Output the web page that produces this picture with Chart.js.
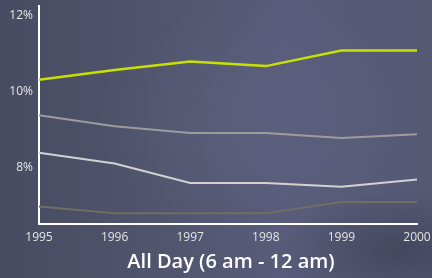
<!DOCTYPE html>
<html lang="en">
<head>
    <meta charset="UTF-8">
    <script src="https://cdn.jsdelivr.net/npm/chart.js"></script>
    <title>All Day</title>
    <style>
        html, body { margin: 0; padding: 0; }
        body {
            position: relative;
            width: 432px;
            height: 278px;
            overflow: hidden;
            background:
                radial-gradient(ellipse 120px 60px at 400px 250px, rgba(60,64,84,0.7), rgba(60,64,84,0)),
                radial-gradient(ellipse 160px 120px at 260px 120px, rgba(96,100,130,0.5), rgba(96,100,130,0)),
                linear-gradient(90deg, #474c62 0%, #50546c 35%, #585c7a 65%, #555974 100%);
        }
        canvas { display: block; }
        .chart-title {
            position: absolute;
            left: 231px;
            top: 251px;
            transform: translateX(-50%);
            white-space: nowrap;
            font-family: 'Open Sans', sans-serif;
            font-size: 20px;
            font-weight: 600;
            line-height: 20px;
            color: #ffffff;
        }
    </style>
</head>
<body>
<canvas id="myChart" width="432" height="278"></canvas>
<div class="chart-title">All Day (6 am - 12 am)</div>

<script>
    // years on the x axis
    const years = ['1995', '1996', '1997', '1998', '1999', '2000'];

    // four series, values in percent
    const topSeries = [10.32, 10.58, 10.8, 10.68, 11.09, 11.09];
    const secondSeries = [9.39, 9.1, 8.92, 8.92, 8.79, 8.89];
    const thirdSeries = [8.4, 8.12, 7.61, 7.61, 7.51, 7.7];
    const bottomSeries = [6.99, 6.81, 6.81, 6.81, 7.11, 7.11];

    const yTicks = [8, 10, 12];

    const tickFont = { family: 'Open Sans', size: 12 };

    const ctx = document.getElementById("myChart").getContext("2d");
    const chart = new Chart(ctx, {
        type: "line",
        data: {
            labels: years,
            datasets: [
                { data: topSeries, borderColor: "#c8e100", borderWidth: 2.5 },
                { data: secondSeries, borderColor: "#9c9c9c", borderWidth: 2 },
                { data: thirdSeries, borderColor: "#d2d2d2", borderWidth: 2 },
                { data: bottomSeries, borderColor: "#6e6e62", borderWidth: 2 },
            ],
        },
        options: {
            responsive: false,
            animation: false,
            maintainAspectRatio: false,
            elements: { point: { radius: 0 }, line: { tension: 0 } },
            layout: { padding: { top: 6, right: 15, left: 0, bottom: 30 } },
            plugins: {
                legend: { display: false },
                tooltip: { enabled: false },
                title: { display: false },
            },
            scales: {
                x: {
                    grid: { display: false, drawTicks: false },
                    border: { color: '#ffffff', width: 2 },
                    ticks: { color: '#e4e4e4', font: tickFont, padding: 6, maxRotation: 0, autoSkip: false },
                    afterFit: (scale) => {
                        scale.height = 24;
                        scale.paddingLeft = 0;
                        scale.paddingRight = 0;
                    },
                },
                y: {
                    min: 6.53,
                    max: 12.26,
                    grid: { display: false, drawTicks: false },
                    border: { color: '#ffffff', width: 2 },
                    afterBuildTicks: (scale) => { scale.ticks = yTicks.map(v => ({ value: v })); },
                    ticks: { color: '#e4e4e4', font: tickFont, padding: 6, callback: (v) => v + '%' },
                    afterFit: (scale) => {
                        scale.width = 39;
                        scale.paddingTop = 0;
                        scale.paddingBottom = 0;
                    },
                },
            },
        },
    });
</script>
</body>
</html>
